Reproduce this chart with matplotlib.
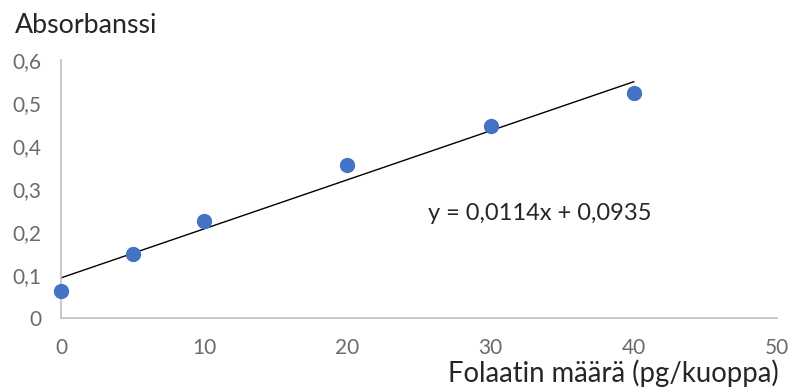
import numpy as np
import matplotlib.pyplot as plt
from matplotlib.ticker import FuncFormatter

# Folaatin standardisuora
folaatti = [0, 5, 10, 20, 30, 40]
absorbanssi = [0.063, 0.149, 0.226, 0.356, 0.447, 0.523]
kulmakerroin = 0.0114
vakio = 0.0935
x_ticks = [0, 10, 20, 30, 40, 50]
y_ticks = [0, 0.1, 0.2, 0.3, 0.4, 0.5, 0.6]

plt.rcParams['font.family'] = ['Lato', 'DejaVu Sans']
plt.rcParams['xtick.labelsize'] = 15
plt.rcParams['ytick.labelsize'] = 15

fig = plt.figure(figsize=(7.92, 3.87), dpi=100)
ax = fig.add_axes([0.077, 0.178, 0.904, 0.667])

# trendiviiva
xs = np.array([folaatti[0], folaatti[-1]])
ax.plot(xs, kulmakerroin * xs + vakio, color='black', lw=1, zorder=2)
ax.scatter(folaatti, absorbanssi, s=100, color='#4472C4', zorder=3,
           clip_on=False)

ax.set_xlim(0, 50)
ax.set_ylim(0, 0.6)
ax.set_xticks(x_ticks)
ax.set_yticks(y_ticks)
ax.yaxis.set_major_formatter(FuncFormatter(
    lambda v, p: '0' if v == 0 else ('%.1f' % v).replace('.', ',')))
ax.tick_params(length=0, colors='#6b6b6b')
ax.tick_params(axis='x', pad=14)
ax.tick_params(axis='y', pad=14)
for s in ['top', 'right']:
    ax.spines[s].set_visible(False)
for s in ['left', 'bottom']:
    ax.spines[s].set_color('#BFBFBF')
    ax.spines[s].set_linewidth(1.2)

ax.text(25.6, 0.244, 'y = 0,0114x + 0,0935', fontsize=17, color='#262626',
        va='center', ha='left')
fig.text(0.019, 0.915, 'Absorbanssi', fontsize=19.3, color='#262626',
         va='baseline', ha='left')
fig.text(0.983, 0.013, 'Folaatin määrä (pg/kuoppa)', fontsize=19.8,
         color='#262626', va='baseline', ha='right')

fig.savefig('out.png', dpi=100)
